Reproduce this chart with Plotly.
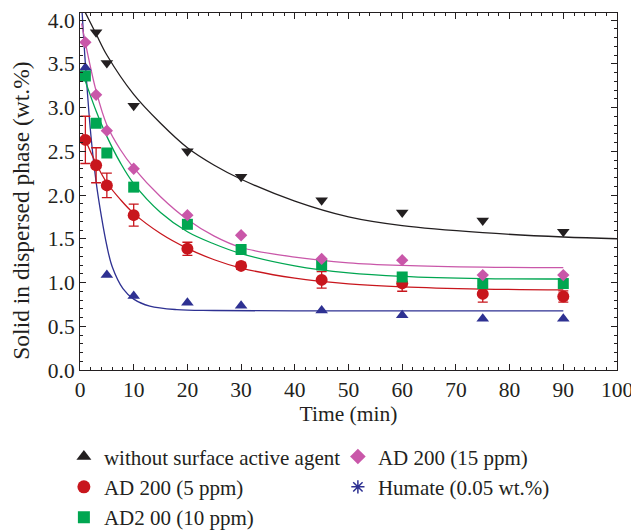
import plotly.graph_objects as go

# ---------------- data ----------------
t_all = [1, 3, 5, 10, 20, 30, 45, 60, 75, 90]

# without surface active agent (black, plotted as down triangles)
t_black = [3, 5, 10, 20, 30, 45, 60, 75, 90]
y_black = [3.86, 3.51, 3.02, 2.50, 2.21, 1.94, 1.80, 1.71, 1.58]

# AD 200 (5 ppm) red circles with error bars
y_red = [2.63, 2.34, 2.11, 1.77, 1.385, 1.19, 1.03, 0.99, 0.87, 0.84]
e_red = [0.27, 0.20, 0.14, 0.125, 0.075, 0.04, 0.095, 0.09, 0.095, 0.065]

# AD2 00 (10 ppm) green squares
y_green = [3.36, 2.82, 2.48, 2.09, 1.665, 1.377, 1.20, 1.063, 0.988, 0.988]

# AD 200 (15 ppm) pink diamonds
y_pink = [3.745, 3.145, 2.735, 2.30, 1.77, 1.54, 1.27, 1.255, 1.085, 1.085]

# Humate (0.05 wt.%) blue triangles
t_blue = [1, 5, 10, 20, 30, 45, 60, 75, 90]
y_blue = [3.455, 1.085, 0.845, 0.77, 0.735, 0.68, 0.625, 0.585, 0.585]

# fitted curves
fit_black_t = [0.7, 3, 5, 10, 15, 20, 25, 30, 40, 50, 60, 75, 90, 100]
fit_black_y = [4.12, 3.84, 3.60, 3.15, 2.82, 2.54, 2.34, 2.18, 1.93, 1.75, 1.65, 1.57, 1.52, 1.50]

fit_blue_t = [0.4, 1, 2, 3, 4, 5, 6, 8, 10, 13, 18, 25, 40, 90]
fit_blue_y = [4.08, 3.50, 2.70, 2.15, 1.75, 1.42, 1.18, 0.93, 0.81, 0.73, 0.69, 0.68, 0.675, 0.675]

fit_red_t = [0.5, 1, 3, 5, 7.5, 10, 15, 20, 25, 30, 40, 50, 60, 75, 90]
fit_red_y = [2.70, 2.63, 2.36, 2.14, 1.95, 1.79, 1.56, 1.39, 1.26, 1.165, 1.05, 0.985, 0.95, 0.925, 0.915]

fit_green_t = [0.3, 1, 3, 5, 7.5, 10, 15, 20, 25, 30, 40, 50, 60, 75, 90]
fit_green_y = [3.42, 3.30, 2.96, 2.67, 2.37, 2.13, 1.80, 1.58, 1.44, 1.33, 1.19, 1.11, 1.07, 1.045, 1.04]

fit_pink_t = [0.3, 1, 3, 5, 7.5, 10, 15, 20, 25, 30, 40, 50, 60, 75, 90]
fit_pink_y = [3.96, 3.74, 3.19, 2.80, 2.52, 2.31, 1.98, 1.72, 1.53, 1.40, 1.29, 1.225, 1.195, 1.175, 1.17]

legend_names = ["without surface active agent", "AD 200 (15 ppm)", "AD 200 (5 ppm)",
                "Humate (0.05 wt.%)", "AD2 00 (10 ppm)"]
x_title = "Time (min)"
y_title = "Solid in dispersed phase (wt.%)"

# ---------------- styles ----------------
BLACK = "#231f20"
RED = "#c8161d"
GREEN = "#00a651"
PINK = "#c957a9"
BLUE = "#2e3192"
FONT = "Liberation Serif"

fig = go.Figure()

def fit(tx, ty, color):
    fig.add_trace(go.Scatter(x=tx, y=ty, mode="lines", line=dict(color=color, width=1.3, shape="spline"),
                             showlegend=False, hoverinfo="skip"))

fit(fit_black_t, fit_black_y, BLACK)
fit(fit_blue_t, fit_blue_y, BLUE)
fit(fit_red_t, fit_red_y, RED)
fit(fit_green_t, fit_green_y, GREEN)
fit(fit_pink_t, fit_pink_y, PINK)

fig.add_trace(go.Scatter(x=t_black, y=y_black, mode="markers", showlegend=False,
                         marker=dict(symbol="triangle-down", size=11, color=BLACK)))
fig.add_trace(go.Scatter(x=t_blue, y=y_blue, mode="markers", showlegend=False,
                         marker=dict(symbol="triangle-up", size=11, color=BLUE)))
fig.add_trace(go.Scatter(x=t_all, y=y_red, mode="markers", showlegend=False,
                         error_y=dict(type="data", array=e_red, color=RED, thickness=1.3, width=5),
                         marker=dict(symbol="circle", size=12, color=RED)))
fig.add_trace(go.Scatter(x=t_all, y=y_green, mode="markers", showlegend=False,
                         marker=dict(symbol="square", size=11, color=GREEN)))
fig.add_trace(go.Scatter(x=t_all, y=y_pink, mode="markers", showlegend=False,
                         marker=dict(symbol="diamond", size=9.5, color=PINK)))

# legend entries (legend symbols differ from plotted symbols in the reference)
leg_styles = [
    dict(symbol="triangle-up", size=13, color=BLACK),
    dict(symbol="diamond", size=12, color=PINK),
    dict(symbol="circle", size=13, color=RED),
    dict(symbol="asterisk-open", size=11, color=BLUE, line=dict(color=BLUE, width=1.5)),
    dict(symbol="square", size=12, color=GREEN),
]
for name, st in zip(legend_names, leg_styles):
    fig.add_trace(go.Scatter(x=[None], y=[None], mode="markers", name=name, marker=st))

axis_common = dict(
    showline=True, linecolor=BLACK, linewidth=1, mirror="allticks",
    ticks="inside", ticklen=6, tickwidth=1, tickcolor=BLACK,
    showgrid=False, zeroline=False, ticklabeloverflow="allow",
    tickfont=dict(family=FONT, size=21.5, color=BLACK),
)

fig.update_xaxes(range=[0, 100], dtick=10, tick0=0,
                 minor=dict(dtick=2, ticks="inside", ticklen=3, tickcolor=BLACK, showgrid=False),
                 title=dict(text=x_title, font=dict(family=FONT, size=21.5, color=BLACK), standoff=4),
                 **axis_common)
fig.update_yaxes(range=[0, 4.08], dtick=0.5, tick0=0, tickformat=".1f",
                 minor=dict(dtick=0.1, ticks="inside", ticklen=3, tickcolor=BLACK, showgrid=False),
                 **axis_common)

fig.add_annotation(text=y_title, textangle=-90, xref="paper", yref="paper",
                   x=-0.11, y=0.446, xanchor="center", yanchor="middle", showarrow=False,
                   font=dict(family=FONT, size=23.5, color=BLACK))

fig.update_layout(
    width=631, height=531,
    margin=dict(l=80, r=13.5, t=13, b=160.5, autoexpand=False),
    plot_bgcolor="white", paper_bgcolor="white",
    font=dict(family=FONT, size=21, color=BLACK),
    legend=dict(orientation="h", x=-0.03, xanchor="left", y=-0.186, yanchor="top",
                entrywidth=229, entrywidthmode="pixels",
                font=dict(family=FONT, size=21, color=BLACK),
                bgcolor="rgba(0,0,0,0)", itemclick=False),
)

fig.write_html("out.html")
